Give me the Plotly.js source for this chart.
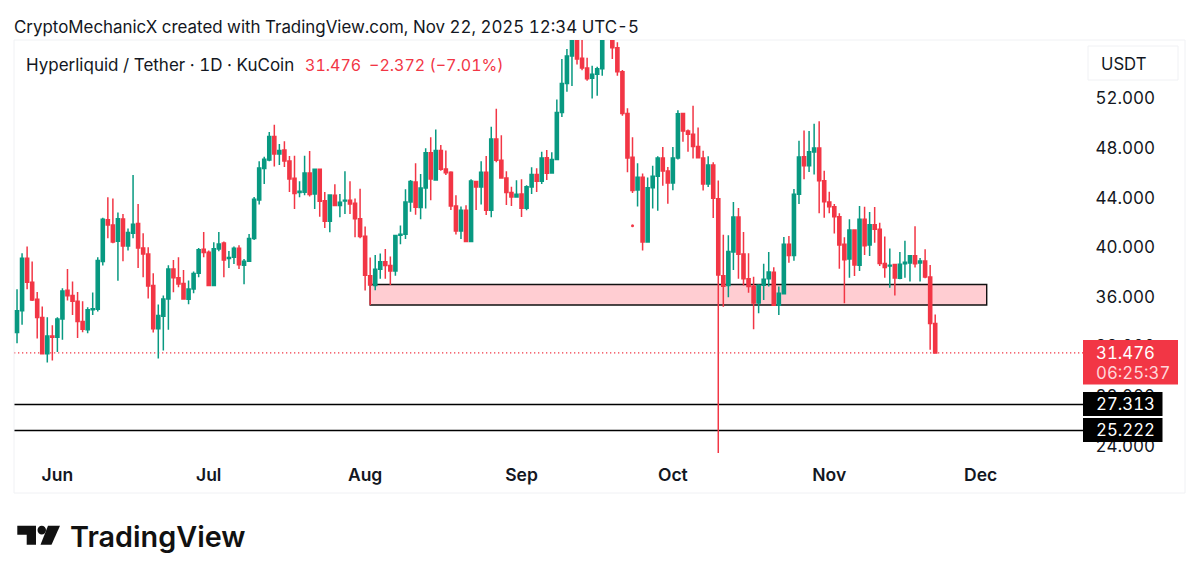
<!DOCTYPE html>
<html><head><meta charset="utf-8">
<script src="https://cdn.plot.ly/plotly-3.0.1.min.js"></script>
<style>html,body{margin:0;padding:0;background:#fff}#c{width:1200px;height:580px}
svg text{font-variant-numeric:tabular-nums;font-feature-settings:"tnum" 1}</style>
</head><body><div id="c"></div>
<script>
const dates = [
"2025-05-24","2025-05-25","2025-05-26","2025-05-27","2025-05-28","2025-05-29","2025-05-30","2025-05-31",
"2025-06-01","2025-06-02","2025-06-03","2025-06-04","2025-06-05","2025-06-06","2025-06-07","2025-06-08","2025-06-09","2025-06-10","2025-06-11","2025-06-12","2025-06-13","2025-06-14","2025-06-15","2025-06-16","2025-06-17","2025-06-18","2025-06-19","2025-06-20","2025-06-21","2025-06-22","2025-06-23","2025-06-24","2025-06-25","2025-06-26","2025-06-27","2025-06-28","2025-06-29","2025-06-30",
"2025-07-01","2025-07-02","2025-07-03","2025-07-04","2025-07-05","2025-07-06","2025-07-07","2025-07-08","2025-07-09","2025-07-10","2025-07-11","2025-07-12","2025-07-13","2025-07-14","2025-07-15","2025-07-16","2025-07-17","2025-07-18","2025-07-19","2025-07-20","2025-07-21","2025-07-22","2025-07-23","2025-07-24","2025-07-25","2025-07-26","2025-07-27","2025-07-28","2025-07-29","2025-07-30","2025-07-31",
"2025-08-01","2025-08-02","2025-08-03","2025-08-04","2025-08-05","2025-08-06","2025-08-07","2025-08-08","2025-08-09","2025-08-10","2025-08-11","2025-08-12","2025-08-13","2025-08-14","2025-08-15","2025-08-16","2025-08-17","2025-08-18","2025-08-19","2025-08-20","2025-08-21","2025-08-22","2025-08-23","2025-08-24","2025-08-25","2025-08-26","2025-08-27","2025-08-28","2025-08-29","2025-08-30","2025-08-31",
"2025-09-01","2025-09-02","2025-09-03","2025-09-04","2025-09-05","2025-09-06","2025-09-07","2025-09-08","2025-09-09","2025-09-10","2025-09-11","2025-09-12","2025-09-13","2025-09-14","2025-09-15","2025-09-16","2025-09-17","2025-09-18","2025-09-19","2025-09-20","2025-09-21","2025-09-22","2025-09-23","2025-09-24","2025-09-25","2025-09-26","2025-09-27","2025-09-28","2025-09-29","2025-09-30",
"2025-10-01","2025-10-02","2025-10-03","2025-10-04","2025-10-05","2025-10-06","2025-10-07","2025-10-08","2025-10-09","2025-10-10","2025-10-11","2025-10-12","2025-10-13","2025-10-14","2025-10-15","2025-10-16","2025-10-17","2025-10-18","2025-10-19","2025-10-20","2025-10-21","2025-10-22","2025-10-23","2025-10-24","2025-10-25","2025-10-26","2025-10-27","2025-10-28","2025-10-29","2025-10-30","2025-10-31",
"2025-11-01","2025-11-02","2025-11-03","2025-11-04","2025-11-05","2025-11-06","2025-11-07","2025-11-08","2025-11-09","2025-11-10","2025-11-11","2025-11-12","2025-11-13","2025-11-14","2025-11-15","2025-11-16","2025-11-17","2025-11-18","2025-11-19","2025-11-20","2025-11-21","2025-11-22"];
const open = [
33.12,34.87,39.12,37.18,35.81,34.33,31.40,32.85,
32.74,34.22,36.53,36.10,35.64,34.01,33.34,34.95,35.00,38.85,42.21,41.80,40.49,42.29,40.11,41.13,41.91,39.95,39.46,36.91,33.42,34.44,35.83,38.25,37.55,37.07,35.81,36.64,37.91,39.84,
39.60,36.91,39.87,40.35,39.09,39.20,39.92,38.55,38.87,40.70,43.82,46.35,47.04,48.93,47.53,47.85,46.96,45.57,44.41,44.44,45.99,44.30,46.29,43.76,42.10,44.19,43.36,43.74,43.79,43.55,42.31,
40.89,37.71,36.91,38.23,38.84,38.52,38.09,40.97,41.05,43.65,45.27,43.20,44.78,47.63,45.43,47.80,46.32,46.05,43.33,41.32,42.98,40.46,45.30,44.86,46.05,42.98,48.73,47.01,45.59,44.41,44.06,
44.30,43.14,44.86,45.86,45.32,47.23,45.99,47.07,50.88,53.22,55.43,57.80,55.24,54.46,53.63,53.95,54.41,57.60,57.90,56.10,54.16,50.80,47.26,44.62,45.64,40.43,44.81,45.72,47.20,46.15,
45.19,47.20,50.80,49.38,49.11,48.12,47.20,45.10,46.64,43.92,37.71,36.91,39.62,42.45,39.46,37.45,36.85,35.51,36.93,37.45,37.98,35.32,36.24,40.24,39.33,44.27,47.31,46.58,47.69,48.01,45.37,
43.65,43.27,42.47,40.24,39.05,41.39,38.54,42.25,40.18,41.82,41.45,38.70,38.49,38.60,37.50,38.68,38.73,39.32,38.73,38.89,37.60,33.85];
const high = [
36.62,39.52,40.06,38.85,36.40,35.22,34.35,33.71,
34.35,36.70,38.25,37.23,36.40,35.64,35.16,36.35,39.20,42.39,44.03,43.93,42.80,42.69,41.51,45.83,43.50,41.13,40.00,37.91,35.38,36.10,38.55,38.98,39.20,38.17,37.31,38.04,39.95,41.24,
39.73,40.40,41.24,40.46,39.70,40.06,40.16,39.06,41.08,44.06,46.94,47.31,49.30,49.89,48.33,48.55,47.37,47.39,45.32,47.39,47.77,46.29,46.29,44.46,44.22,45.08,44.30,46.13,45.32,43.93,44.73,
41.67,39.17,39.38,39.49,39.86,39.25,41.00,41.75,44.68,45.43,46.77,45.91,47.98,48.87,49.51,48.25,47.80,46.13,44.19,43.28,43.39,45.48,45.35,46.93,47.36,49.73,51.18,49.03,46.13,44.89,45.40,
45.48,45.00,46.45,46.37,47.71,47.85,47.66,51.93,55.18,55.99,58.60,58.90,57.20,55.29,54.65,54.57,58.20,58.40,58.30,56.53,54.30,51.21,48.87,46.77,45.96,45.62,46.58,47.34,48.09,46.48,
48.09,51.05,50.86,49.51,51.42,49.67,47.79,47.34,46.85,45.38,41.00,40.97,43.65,43.17,41.24,39.51,37.63,37.01,38.68,39.62,38.39,36.83,40.83,40.91,44.70,48.60,49.41,49.38,49.96,50.16,46.18,
44.48,43.49,42.74,40.80,42.25,41.39,43.33,43.27,42.84,43.25,41.98,40.86,39.91,38.65,39.62,40.53,39.35,41.69,39.14,39.83,38.57,34.57];
const low = [
32.26,33.74,36.62,35.67,32.63,31.37,30.70,30.86,
31.56,32.53,35.70,34.54,32.69,33.15,33.07,34.54,34.81,38.52,40.73,40.32,37.29,38.87,39.73,40.73,38.33,37.58,35.86,33.12,31.02,31.67,33.34,36.37,36.77,35.81,35.40,36.29,37.58,39.20,
36.91,36.91,39.68,37.58,38.33,38.66,38.25,37.02,38.82,40.59,43.44,45.11,46.94,46.51,46.64,46.48,44.46,43.09,44.03,44.19,44.09,43.09,42.47,41.56,41.21,43.33,42.42,42.69,42.69,40.81,40.73,
36.51,35.35,36.53,37.45,37.45,36.96,37.71,40.24,40.67,42.87,42.63,42.26,43.12,43.79,45.37,46.18,45.83,43.01,41.02,40.67,40.46,40.46,43.01,43.44,42.61,42.42,46.85,45.54,43.41,43.33,44.00,
42.45,42.98,44.30,44.46,45.11,45.43,45.99,47.04,50.51,52.55,53.01,54.75,54.27,53.44,52.01,52.23,53.84,56.90,55.18,53.84,50.61,46.05,44.38,43.28,39.73,40.43,43.12,42.95,44.97,43.52,
44.59,47.07,48.52,47.71,47.17,47.17,44.57,44.86,42.36,23.41,35.21,35.97,38.17,37.47,36.91,36.34,33.39,34.68,35.75,36.83,35.27,34.54,36.21,38.76,38.92,43.49,45.48,46.07,45.86,42.74,42.39,
42.74,41.12,38.27,35.48,37.55,37.68,38.09,39.38,39.30,40.37,38.49,37.55,36.74,36.10,37.42,37.55,37.23,38.36,37.23,37.50,31.74,31.40];
const close = [
34.87,39.12,37.18,35.75,34.33,31.40,32.85,32.74,
34.22,36.48,36.08,35.64,34.01,33.39,34.95,35.03,38.93,42.26,41.80,40.43,42.31,40.11,41.19,41.86,39.95,39.46,36.88,33.42,34.49,35.83,38.25,37.55,37.04,35.83,36.64,37.88,39.79,39.57,
36.91,39.89,40.27,38.98,39.17,39.92,38.58,38.87,40.70,43.87,46.40,47.10,48.93,47.53,47.80,46.96,45.51,44.33,44.52,45.99,44.25,46.29,43.71,42.10,44.22,43.36,43.63,43.79,43.50,42.31,40.86,
37.74,36.96,38.23,38.84,38.52,38.09,40.94,41.05,43.65,45.30,43.22,44.78,47.63,45.51,47.80,46.29,46.02,43.33,41.32,42.98,40.46,45.35,44.86,46.05,42.98,48.73,47.01,45.59,44.41,44.06,44.27,
43.14,44.89,45.86,45.32,47.20,45.97,47.07,50.88,53.22,55.43,57.80,55.18,54.46,53.60,53.95,54.41,57.50,57.90,56.10,54.16,50.80,47.20,44.57,45.64,40.43,44.81,45.72,47.20,46.15,45.19,
47.20,50.78,49.38,49.11,48.12,47.23,45.10,46.64,43.95,37.77,36.85,39.65,42.45,39.43,37.45,36.83,35.51,36.93,37.42,38.01,35.32,36.29,40.24,39.33,44.27,47.28,46.58,47.71,48.01,45.37,43.68,
43.27,42.47,40.18,39.00,41.39,38.57,42.25,40.13,41.82,41.45,38.70,38.36,38.54,37.52,38.62,38.79,39.32,38.68,38.89,37.60,33.85,31.476];

const stray = {date:"2025-09-23", value:41.74};
const zoneStart = "2025-08-02", zoneEnd = "2025-12-02 05:00", zoneTop = 37.0, zoneBottom = 35.34;
const lastPrice = 31.476, levelA = 27.313, levelB = 25.222;
const xTicks = ["2025-06-01","2025-07-01","2025-08-01","2025-09-01","2025-10-01","2025-11-01","2025-12-01"];
const xLabels = ["Jun","Jul","Aug","Sep","Oct","Nov","Dec"];
const yTicks = [24,28,32,36,40,44,48,52];
const yLabels = ["24.000","28.000","32.000","36.000","40.000","44.000","48.000","52.000"];

const UP = "#089981", DOWN = "#F23645", INK = "#131722", FRAME = "#F0F1F4";
const W = 1200, H = 580, L = 14, R = 1085, T = 40, B = 458;
const px = x => (x - L) / (R - L);
const py = y => (B - y) / (B - T);
const paperRect = (x0,y0,x1,y1,o) => Object.assign({type:"rect",xref:"paper",yref:"paper",x0:px(x0),x1:px(x1),y0:py(y0),y1:py(y1),layer:"above"},o);
const paperPath = pts => "M" + pts.map(p => px(p[0]) + "," + py(p[1])).join("L") + "Z";
const note = (x,y,text,size,color,extra) => Object.assign({xref:"paper",yref:"paper",x:px(x),y:py(y),xanchor:"left",yanchor:"middle",showarrow:false,text:text,align:"left",font:{family:"Inter, sans-serif",size:size,color:color}},extra||{});

const traces = [
 {type:"candlestick",x:dates,open:open,high:high,low:low,close:close,
  increasing:{line:{color:UP,width:1.5},fillcolor:UP},
  decreasing:{line:{color:DOWN,width:1.5},fillcolor:DOWN},
  whiskerwidth:0,hoverinfo:"skip",showlegend:false},
 {type:"scatter",mode:"markers",x:[stray.date],y:[stray.value],marker:{color:DOWN,size:3},hoverinfo:"skip",showlegend:false}
];

const layout = {
 width:W,height:H,paper_bgcolor:"#fff",plot_bgcolor:"#fff",
 margin:{l:L,r:W-R,t:T,b:H-B,pad:0},
 boxgap:0.12,
 showlegend:false,hovermode:false,
 xaxis:{type:"date",range:["2025-05-23 09:36","2025-12-21 16:36"],rangeslider:{visible:false},
  tickmode:"array",tickvals:xTicks,ticktext:xLabels,showgrid:false,zeroline:false,showline:false,
  ticks:"outside",ticklen:1,tickcolor:"rgba(0,0,0,0)",tickangle:0,
  tickfont:{family:"Inter, sans-serif",size:17.5,color:INK,weight:600}},
 yaxis:{side:"right",range:[23.0,56.72],tickmode:"array",tickvals:yTicks,ticktext:yLabels,showgrid:false,zeroline:false,showline:false,
  ticks:"outside",ticklen:6,tickcolor:"rgba(0,0,0,0)",
  tickfont:{family:"Inter, sans-serif",size:17,color:INK}},
 shapes:[
  {type:"rect",xref:"x",yref:"y",x0:zoneStart,x1:zoneEnd,y0:zoneBottom,y1:zoneTop,fillcolor:"#FFCDD2",line:{color:"#111",width:1.4},layer:"below"},
  {type:"line",xref:"paper",yref:"y",x0:0,x1:px(1084),y0:lastPrice,y1:lastPrice,line:{color:DOWN,width:1.3,dash:"1.3px,2.7px"},layer:"below"},
  {type:"line",xref:"paper",yref:"y",x0:0,x1:px(1084),y0:levelA,y1:levelA,line:{color:"#000",width:1.4},layer:"below"},
  {type:"line",xref:"paper",yref:"y",x0:0,x1:px(1084),y0:levelB,y1:levelB,line:{color:"#000",width:1.4},layer:"below"},
  paperRect(14,40,1185,493,{line:{color:FRAME,width:1},fillcolor:"rgba(0,0,0,0)",layer:"below"}),
  paperRect(1088,46,1178,80,{line:{color:FRAME,width:1},fillcolor:"#fff"}),
  paperRect(1083,340,1178,384.5,{line:{width:0},fillcolor:DOWN}),
  paperRect(1083,392,1162.5,416,{line:{width:0},fillcolor:"#000"}),
  paperRect(1083,418,1162.5,442,{line:{width:0},fillcolor:"#000"}),
  {type:"path",xref:"paper",yref:"paper",layer:"above",line:{width:0},fillcolor:"#111",path:paperPath([[17.3,525.7],[36,525.7],[36,544.7],[26.7,544.7],[26.7,534.7],[17.3,534.7]])},
  {type:"circle",xref:"paper",yref:"paper",layer:"above",line:{width:0},fillcolor:"#111",x0:px(37.5),x1:px(46),y0:py(525.7),y1:py(534.4)},
  {type:"path",xref:"paper",yref:"paper",layer:"above",line:{width:0},fillcolor:"#111",path:paperPath([[48,525.7],[60,525.7],[51.5,544.7],[40.5,544.7]])}
 ],
 annotations:[
  note(12,27,"CryptoMechanicX created with TradingView.com, Nov 22, 2025 12:34 UTC-5",16.9,INK),
  note(24,65,"Hyperliquid / Tether · 1D · KuCoin",17,INK),
  note(302.5,65,"31.476",16,DOWN),
  note(367,65,"−2.372 (−7.01%)",16,DOWN),
  note(1099,64,"USDT",16.7,INK),
  note(1094,352.5,"31.476",16.8,"#fff"),
  note(1094,373,"06:25:37",16.8,"#FFD5D9"),
  note(1094,404,"27.313",16.8,"#fff"),
  note(1094,430,"25.222",16.8,"#fff"),
  note(68,536.5,"TradingView",28.8,"#111",{font:{family:"Inter, sans-serif",size:28.8,color:"#111",weight:600}})
 ]
};
Plotly.newPlot("c",traces,layout,{staticPlot:true,displayModeBar:false});
</script></body></html>
